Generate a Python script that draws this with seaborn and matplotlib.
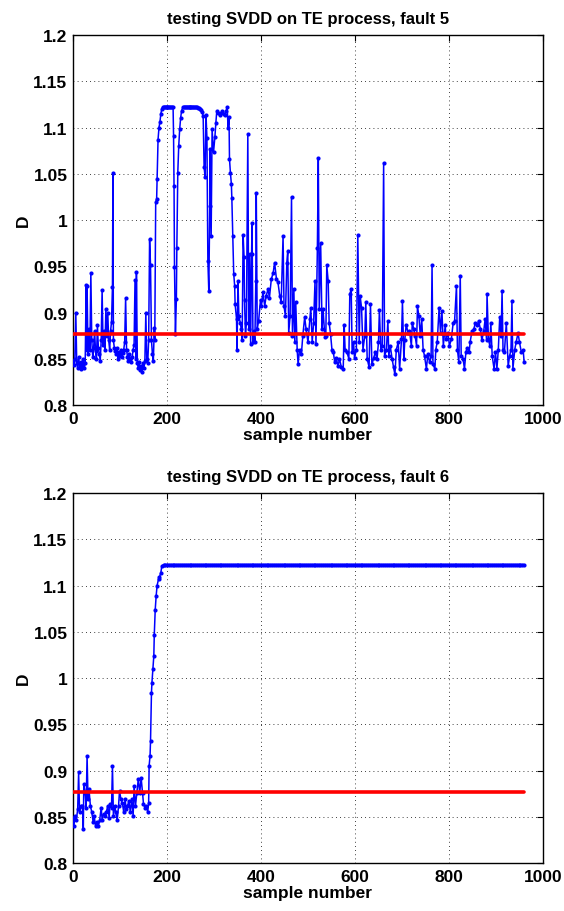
import numpy as np
import pandas as pd
import matplotlib
matplotlib.use("Agg")
import matplotlib.pyplot as plt
import seaborn as sns

# ---------------- data ----------------
fault5_sample = [0, 2, 4, 6, 8, 10, 12, 14, 16, 18, 20, 22, 24, 26, 28, 29, 30, 32, 34, 36,
                 38, 40, 42, 44, 46, 48, 50, 52, 54, 56, 58, 60, 62, 64, 66, 68, 70, 72, 74, 76,
                 78, 80, 82, 84, 85, 86, 88, 90, 92, 94, 96, 98, 100, 102, 104, 106, 108, 110, 112, 114,
                 116, 118, 120, 122, 124, 126, 128, 130, 132, 134, 135, 137, 139, 141, 143, 145, 147, 149, 151, 153,
                 155, 157, 159, 161, 163, 165, 167, 169, 171, 173, 174, 176, 178, 179, 181, 183, 185, 187, 189, 191,
                 193, 195, 197, 199, 201, 203, 205, 207, 209, 211, 213, 214, 215, 216, 218, 220, 221, 223, 225, 227,
                 229, 231, 234, 236, 238, 240, 242, 244, 246, 248, 250, 252, 254, 256, 258, 260, 262, 264, 266, 268,
                 270, 272, 275, 277, 279, 281, 283, 285, 287, 289, 291, 292, 294, 296, 299, 302, 304,
                 306, 309, 312, 315, 318, 321, 323, 326, 328, 330, 332, 333, 335, 337, 338, 340, 342, 344, 345, 348,
                 349, 351, 353, 356, 358, 360, 362, 364, 365, 367, 369, 372, 374, 376, 378, 380, 381, 383, 385, 387,
                 389, 390, 392, 395, 399, 401, 404, 408, 411, 415, 418, 422, 426, 429, 433, 436, 440, 443, 447, 449,
                 452, 455, 457, 459, 462, 465, 467, 470, 472, 474, 477, 479, 482, 486, 489, 493, 496, 500, 504, 506,
                 509, 512, 515, 517, 520, 522, 524, 527, 530, 532, 536, 538, 540, 543, 545, 548, 551, 554, 557, 560,
                 564, 567, 571, 575, 577, 579, 583, 587, 589, 592, 594, 597, 599, 603, 606, 609, 611, 614, 617, 621,
                 623, 626, 630, 633, 636, 640, 643, 647, 650, 652, 655, 658, 661, 663, 667, 670, 672, 675, 679, 682,
                 685, 688, 692, 695, 699, 701, 704, 706, 709, 713, 716, 720, 722, 725, 728, 731, 733, 736, 739, 742,
                 745, 748, 752, 755, 759, 762, 764, 766, 770, 772, 775, 779, 782, 785, 788, 792, 794, 798, 801, 805,
                 809, 812, 816, 818, 821, 824, 826, 830, 833, 836, 839, 843, 845, 849, 853, 856, 860, 863, 867, 870,
                 874, 877, 880, 881, 884, 887, 889, 892, 896, 899, 902, 905, 908, 911, 913, 915, 918, 922, 926, 929,
                 932, 934, 936, 940, 943, 947, 950, 954, 958, 960]
fault5_D = [0.848, 0.843, 0.850, 0.900, 0.845, 0.840, 0.852, 0.843, 0.839, 0.846, 0.841, 0.850, 0.840, 0.845, 0.930, 0.860, 0.929, 0.855, 0.882, 0.860,
            0.943, 0.870, 0.852, 0.862, 0.880, 0.858, 0.850, 0.886, 0.862, 0.855, 0.848, 0.870, 0.924, 0.865, 0.880, 0.860, 0.904, 0.875, 0.900, 0.870,
            0.860, 0.880, 0.890, 0.928, 1.051, 0.870, 0.862, 0.858, 0.855, 0.862, 0.850, 0.857, 0.853, 0.860, 0.852, 0.856, 0.860, 0.868, 0.916, 0.860,
            0.852, 0.848, 0.855, 0.850, 0.847, 0.852, 0.860, 0.865, 0.935, 0.850, 0.944, 0.845, 0.840, 0.846, 0.838, 0.842, 0.836, 0.845, 0.840, 0.848,
            0.900, 0.850, 0.845, 0.870, 0.979, 0.951, 0.870, 0.855, 0.848, 0.883, 0.870, 1.019, 1.023, 1.044, 1.087, 1.100, 1.106, 1.115, 1.120, 1.1222,
            1.1225, 1.1227, 1.1227, 1.1227, 1.1227, 1.1227, 1.1226, 1.1225, 1.1225, 1.1224, 1.122, 1.091, 1.037, 0.949, 0.877, 0.915, 0.970, 1.051, 1.080, 1.098,
            1.110, 1.118, 1.1222, 1.1225, 1.1227, 1.1227, 1.1227, 1.1227, 1.1227, 1.1227, 1.1227, 1.1227, 1.1227, 1.1226, 1.1225, 1.1224, 1.1222, 1.1220, 1.1215, 1.121,
            1.120, 1.119, 1.117, 1.112, 1.057, 1.047, 1.114, 1.089, 0.956, 0.923, 1.015, 1.077, 0.983, 1.098, 1.073, 1.090, 1.105,
            1.118, 1.116, 1.114, 1.116, 1.118, 1.115, 1.114, 1.118, 1.122, 1.100, 1.111, 1.066, 1.051, 1.039, 1.024, 0.983, 0.942, 0.929, 0.909, 0.893,
            0.859, 0.934, 0.896, 0.889, 0.882, 0.870, 0.984, 0.960, 0.913, 0.875, 0.889, 1.093, 0.882, 0.963, 0.866, 0.963, 0.997, 0.868, 0.880, 0.868,
            0.934, 1.029, 0.882, 0.891, 0.914, 0.907, 0.922, 0.907, 0.918, 0.925, 0.916, 0.936, 0.943, 0.954, 0.936, 0.933, 0.918, 0.911, 0.983, 0.907,
            0.896, 0.954, 0.967, 0.878, 0.896, 1.025, 0.875, 0.925, 0.868, 0.911, 0.860, 0.844, 0.860, 0.855, 0.875, 0.895, 0.882, 0.868, 0.893, 0.905,
            0.868, 0.889, 0.934, 0.866, 0.970, 1.067, 0.904, 0.975, 0.882, 0.904, 0.873, 0.875, 0.951, 0.934, 0.889, 0.877, 0.860, 0.857, 0.846, 0.851,
            0.842, 0.850, 0.841, 0.839, 0.887, 0.860, 0.857, 0.850, 0.920, 0.925, 0.857, 0.868, 0.851, 0.860, 0.984, 0.868, 0.918, 0.905, 0.860, 0.875,
            0.911, 0.850, 0.841, 0.909, 0.844, 0.851, 0.857, 0.850, 0.868, 0.903, 0.860, 0.864, 1.062, 0.853, 0.860, 0.891, 0.853, 0.864, 0.850, 0.841,
            0.833, 0.860, 0.868, 0.839, 0.871, 0.912, 0.850, 0.870, 0.887, 0.878, 0.880, 0.864, 0.889, 0.882, 0.875, 0.864, 0.907, 0.896, 0.875, 0.893,
            0.860, 0.853, 0.839, 0.855, 0.846, 0.853, 0.951, 0.844, 0.839, 0.860, 0.868, 0.905, 0.878, 0.902, 0.864, 0.886, 0.871, 0.878, 0.864, 0.871,
            0.889, 0.891, 0.929, 0.860, 0.846, 0.940, 0.853, 0.850, 0.839, 0.857, 0.862, 0.857, 0.868, 0.880, 0.882, 0.889, 0.886, 0.891, 0.882, 0.870,
            0.880, 0.893, 0.870, 0.920, 0.871, 0.864, 0.889, 0.853, 0.839, 0.857, 0.839, 0.860, 0.895, 0.875, 0.923, 0.860, 0.857, 0.889, 0.842, 0.853,
            0.860, 0.912, 0.839, 0.860, 0.868, 0.878, 0.868, 0.857, 0.859, 0.846]

fault6_sample = [0, 2, 4, 7, 10, 12, 14, 18, 20, 22, 23, 26, 28, 30, 32, 34, 37, 40, 43, 45,
                 48, 51, 54, 57, 60, 62, 65, 68, 71, 74, 77, 79, 82, 84, 86, 89, 91, 94, 97, 99,
                 102, 105, 108, 111, 113, 116, 119, 122, 125, 128, 130, 133, 136, 139, 142, 145, 148, 150, 153, 156,
                 159, 161, 162, 164, 165, 167, 168, 170, 172, 173, 175, 177, 179, 182, 184, 187, 189, 193,
                 196, 200, 204, 208, 212, 216, 220, 224, 228, 232, 236, 240, 244, 248, 252, 256, 260, 264, 268, 272,
                 276, 280, 284, 288, 292, 296, 300, 304, 308, 312, 316, 320, 324, 328, 332, 336, 340, 344, 348, 352,
                 356, 360, 364, 368, 372, 376, 380, 384, 388, 392, 396, 400, 404, 408, 412, 416, 420, 424, 428, 432,
                 436, 440, 444, 448, 452, 456, 460, 464, 468, 472, 476, 480, 484, 488, 492, 496, 500, 504, 508, 512,
                 516, 520, 524, 528, 532, 536, 540, 544, 548, 552, 556, 560, 564, 568, 572, 576, 580, 584, 588, 592,
                 596, 600, 604, 608, 612, 616, 620, 624, 628, 632, 636, 640, 644, 648, 652, 656, 660, 664, 668, 672,
                 676, 680, 684, 688, 692, 696, 700, 704, 708, 712, 716, 720, 724, 728, 732, 736, 740, 744, 748, 752,
                 756, 760, 764, 768, 772, 776, 780, 784, 788, 792, 796, 800, 804, 808, 812, 816, 820, 824, 828, 832,
                 836, 840, 844, 848, 852, 856, 860, 864, 868, 872, 876, 880, 884, 888, 892, 896, 900, 904, 908, 912,
                 916, 920, 924, 928, 932, 936, 940, 944, 948, 952, 956, 960]
fault6_D = [0.849, 0.840, 0.851, 0.846, 0.858, 0.898, 0.855, 0.862, 0.862, 0.837, 0.885, 0.876, 0.860, 0.916, 0.869, 0.880, 0.862, 0.855, 0.844, 0.851,
            0.840, 0.844, 0.840, 0.847, 0.860, 0.847, 0.853, 0.851, 0.855, 0.862, 0.849, 0.864, 0.860, 0.905, 0.851, 0.862, 0.855, 0.846, 0.862, 0.878,
            0.869, 0.865, 0.855, 0.869, 0.858, 0.862, 0.867, 0.855, 0.869, 0.851, 0.883, 0.862, 0.876, 0.891, 0.876, 0.892, 0.876, 0.864, 0.860, 0.862,
            0.855, 0.865, 0.905, 0.916, 0.932, 0.984, 0.995, 1.010, 1.024, 1.047, 1.074, 1.089, 1.100, 1.107, 1.109, 1.114, 1.121, 1.1227,
            1.1227, 1.1227, 1.1227, 1.1227, 1.1227, 1.1227, 1.1227, 1.1227, 1.1227, 1.1227, 1.1227, 1.1227, 1.1227, 1.1227, 1.1227, 1.1227, 1.1227, 1.1227, 1.1227, 1.1227,
            1.1227, 1.1227, 1.1227, 1.1227, 1.1227, 1.1227, 1.1227, 1.1227, 1.1227, 1.1227, 1.1227, 1.1227, 1.1227, 1.1227, 1.1227, 1.1227, 1.1227, 1.1227, 1.1227, 1.1227,
            1.1227, 1.1227, 1.1227, 1.1227, 1.1227, 1.1227, 1.1227, 1.1227, 1.1227, 1.1227, 1.1227, 1.1227, 1.1227, 1.1227, 1.1227, 1.1227, 1.1227, 1.1227, 1.1227, 1.1227,
            1.1227, 1.1227, 1.1227, 1.1227, 1.1227, 1.1227, 1.1227, 1.1227, 1.1227, 1.1227, 1.1227, 1.1227, 1.1227, 1.1227, 1.1227, 1.1227, 1.1227, 1.1227, 1.1227, 1.1227,
            1.1227, 1.1227, 1.1227, 1.1227, 1.1227, 1.1227, 1.1227, 1.1227, 1.1227, 1.1227, 1.1227, 1.1227, 1.1227, 1.1227, 1.1227, 1.1227, 1.1227, 1.1227, 1.1227, 1.1227,
            1.1227, 1.1227, 1.1227, 1.1227, 1.1227, 1.1227, 1.1227, 1.1227, 1.1227, 1.1227, 1.1227, 1.1227, 1.1227, 1.1227, 1.1227, 1.1227, 1.1227, 1.1227, 1.1227, 1.1227,
            1.1227, 1.1227, 1.1227, 1.1227, 1.1227, 1.1227, 1.1227, 1.1227, 1.1227, 1.1227, 1.1227, 1.1227, 1.1227, 1.1227, 1.1227, 1.1227, 1.1227, 1.1227, 1.1227, 1.1227,
            1.1227, 1.1227, 1.1227, 1.1227, 1.1227, 1.1227, 1.1227, 1.1227, 1.1227, 1.1227, 1.1227, 1.1227, 1.1227, 1.1227, 1.1227, 1.1227, 1.1227, 1.1227, 1.1227, 1.1227,
            1.1227, 1.1227, 1.1227, 1.1227, 1.1227, 1.1227, 1.1227, 1.1227, 1.1227, 1.1227, 1.1227, 1.1227, 1.1227, 1.1227, 1.1227, 1.1227, 1.1227, 1.1227, 1.1227, 1.1227,
            1.1227, 1.1227, 1.1227, 1.1227, 1.1227, 1.1227, 1.1227, 1.1227, 1.1227, 1.1227, 1.1227, 1.1227]

threshold_sample = [1, 960]
threshold_D = [0.877, 0.877]

titles = ["testing SVDD on TE process, fault 5", "testing SVDD on TE process, fault 6"]
xlabel_text = "sample number"
ylabel_text = "D"
xtick_values = [0, 200, 400, 600, 800, 1000]
xtick_labels = ["0", "200", "400", "600", "800", "1000"]
ytick_values = [0.8, 0.85, 0.9, 0.95, 1.0, 1.05, 1.1, 1.15, 1.2]
ytick_labels = ["0.8", "0.85", "0.9", "0.95", "1", "1.05", "1.1", "1.15", "1.2"]

# ---------------- style ----------------
sns.set_style("white")
plt.rcParams["font.family"] = ["Liberation Sans", "DejaVu Sans"]
plt.rcParams["font.weight"] = "bold"
plt.rcParams["axes.labelweight"] = "bold"
plt.rcParams["axes.titleweight"] = "bold"

FS = 12.5
TFS = 12

fig = plt.figure(figsize=(5.64, 9.12), dpi=100)
fig.patch.set_facecolor("white")
ax_top = fig.add_axes([0.1294, 0.5548, 0.8333, 0.4057])
ax_bot = fig.add_axes([0.1294, 0.0526, 0.8333, 0.4057])

series = [(ax_top, fault5_sample, fault5_D, titles[0]),
          (ax_bot, fault6_sample, fault6_D, titles[1])]

for ax, xs, ys, title in series:
    df = pd.DataFrame({"sample": xs, "D": ys})
    sns.lineplot(data=df, x="sample", y="D", ax=ax, color="#0000ff", linewidth=1.1,
                 marker="o", markersize=3.0, markeredgewidth=0, sort=False,
                 estimator=None, zorder=3)
    thr = pd.DataFrame({"sample": threshold_sample, "D": threshold_D})
    sns.lineplot(data=thr, x="sample", y="D", ax=ax, color="#ff0000", linewidth=2.6,
                 sort=False, estimator=None, zorder=4)

    ax.set_xlim(0, 1000)
    ax.set_ylim(0.8, 1.2)
    ax.set_xticks(xtick_values)
    ax.set_xticklabels(xtick_labels)
    ax.set_yticks(ytick_values)
    ax.set_yticklabels(ytick_labels)
    ax.grid(True, color="black", linestyle=(0, (1, 4)), linewidth=0.6)
    ax.set_axisbelow(True)
    ax.tick_params(direction="in", length=4, width=0.8, top=True, right=True,
                   labelsize=FS, pad=4, colors="black")
    for lab in ax.get_xticklabels() + ax.get_yticklabels():
        lab.set_fontweight("bold")
    for sp in ax.spines.values():
        sp.set_color("black")
        sp.set_linewidth(1.0)
        sp.set_visible(True)
    ax.set_title(title, fontsize=TFS, fontweight="bold", pad=9, color="black")
    ax.set_xlabel(xlabel_text, fontsize=FS, fontweight="bold", labelpad=1, color="black")
    ax.set_ylabel(ylabel_text, fontsize=FS, fontweight="bold", labelpad=2, color="black")

fig.savefig("out.png", dpi=100, facecolor="white")
